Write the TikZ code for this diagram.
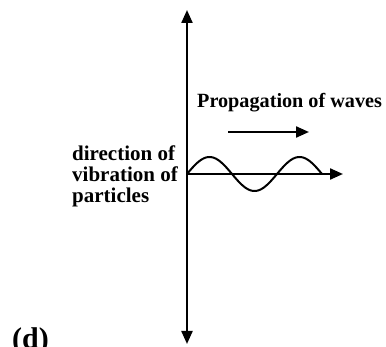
\documentclass[tikz,border=0pt]{standalone}
\usepackage{fontspec}
\setmainfont{Liberation Serif}
\usetikzlibrary{arrows.meta}
\tikzset{
  axis/.style={line width=2.2pt, -{Triangle[length=13pt,width=11pt]}},
  label/.style={inner sep=0pt, font=\bfseries\fontsize{21}{21}\selectfont}
}
\begin{document}
\begin{tikzpicture}[x=1pt, y=-1pt]
    \useasboundingbox (0,0) rectangle (386,347);
    \def\amp{17}
    \def\lam{90}

    \coordinate (origin) at (187,174);
    \coordinate (top) at (187,10);
    \coordinate (bottom) at (187,344);
    \coordinate (right) at (343,174);

    \draw[axis] (origin) -- (top);
    \draw[axis] (origin) -- (bottom);
    \draw[axis] (origin) -- (right);

    % the wave, one and a half periods
    \draw[line width=2pt, domain=0:135, samples=80, smooth]
      plot ({187+\x}, {174-\amp*sin(\x/\lam*360)});

    \node[label, anchor=base west, font=\bfseries\fontsize{20.2}{20.2}\selectfont] (prop) at (197,108) {Propagation of waves};
    \coordinate (pstart) at (228,132);
    \coordinate (pend) at (309,132);
    \draw[axis] (pstart) -- (pend);

    \node[label, anchor=north west, align=left] (vib) at (72,146)
      {direction of\\vibration of\\particles};

    \node[inner sep=0pt, anchor=base west, font=\bfseries\fontsize{30}{30}\selectfont] (part) at (12,349) {(d)};
  \end{tikzpicture}
\end{document}
